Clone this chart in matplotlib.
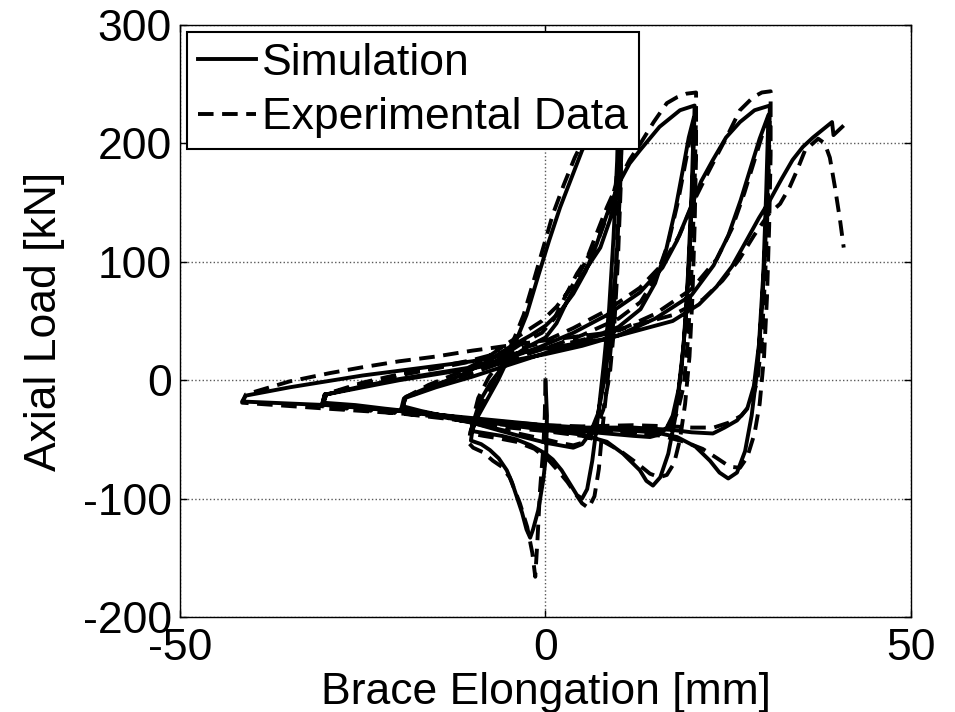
import matplotlib
matplotlib.use("Agg")
import matplotlib.pyplot as plt

plt.rcParams['font.family'] = ['Liberation Sans', 'DejaVu Sans']
plt.rcParams['axes.unicode_minus'] = False

# brace hysteresis: simulation, cycle by cycle (elongation mm, axial load kN)
sim_x = [
    # +-10 mm, first cycle
    0, 0.2, 0.1, -0.3, -1.0, -1.7, -2.1,
    -2.6, -3.2, -3.9, -4.6, -5.3, -6.4, -7.6, -8.8, -10.2,
    -10.0, -9.2, -8.3, -6.5, -4.5, -2.6, -1.0, 0.5, 2.0, 3.5, 5.0, 6.5, 8.0, 9.6, 10.0,
    9.8, 9.3, 8.7, 8.0, 7.2, 6.4, 5.7, 5.0,
    4.3, 3.4, 2.2, 1.0, 0.0, -2.0, -4.0, -6.0, -8.0, -10.0,
    # +-10 mm, second cycle
    -9.7, -9.0, -7.5, -5.0, -2.5, 0.0, 1.5, 2.9, 4.5, 6.0, 7.5, 8.8, 9.8, 10.3, 10.5,
    10.2, 9.7, 9.0, 8.2, 7.2, 6.1, 5.0, 3.8, 2.0, 0.2, -3.0, -6.0, -10.0, -14.0, -17.0, -19.5,
    # +-20 mm, first cycle
    -19.1, -16.0, -12.0, -8.5, -4.9, -2.0, 0.0, 2.0, 3.8, 5.5, 7.0, 8.4, 10.1, 11.5, 12.9, 15.6, 18.4, 20.4,
    20.2, 19.8, 19.3, 18.6, 17.8, 16.8, 15.7, 14.7, 13.8, 12.9, 10.6, 8.4, 5.0, 0.0, -5.0, -10.0, -15.0, -19.6,
    # +-20 mm, second cycle
    -19.2, -15.0, -10.0, -5.0, 0.0, 5.0, 10.0, 13.0, 15.0, 16.5, 17.8, 18.8, 19.6, 20.3,
    20.0, 19.5, 18.9, 18.2, 17.4, 16.6, 15.5, 14.3, 12.0, 8.4, 3.0, -3.0, -10.0, -16.0, -22.0, -26.0, -30.4,
    # +-30 mm, first cycle
    -30.0, -25.0, -20.0, -15.0, -10.0, -7.6, -4.0, -0.8, 3.8, 8.4, 12.9, 16.0, 18.0, 19.8, 21.3, 22.9, 24.7, 26.6, 28.6, 30.7,
    30.5, 30.1, 29.6, 29.0, 28.2, 27.3, 26.2, 25.0, 23.8, 22.5, 20.5, 18.0, 15.0, 10.0, 5.0, 0.0, -5.0, -10.0, -20.0, -30.4,
    # +-30 mm, second cycle
    -30.0, -20.0, -10.0, 0.0, 5.0, 10.0, 15.0, 20.0, 23.0, 25.0, 26.7, 28.0, 29.3, 30.5,
    30.2, 29.8, 29.2, 28.5, 27.6, 26.2, 24.5, 22.9, 20.0, 17.4, 12.0, 5.0, 0.0, -10.0, -20.0, -30.0, -41.5,
    # +-40 mm
    -41.0, -35.0, -30.0, -25.0, -20.0, -15.0, -10.0, -7.6, -0.8, 8.4, 17.4, 21.0, 23.4, 25.5, 27.5, 29.2,
    30.7, 32.3, 33.8, 35.2, 36.6, 38.0, 39.2, 39.4, 40.6,
]
sim_y = [
    0, -30, -62, -84, -110, -126, -133,
    -126, -112, -99, -86, -76, -66, -59, -54, -51,
    -42, -30, -20, 0, 26, 55, 88, 118, 146, 170, 194, 212, 224, 231, 232,
    185, 120, 60, 15, -30, -68, -92, -100,
    -97, -88, -76, -67, -62, -55, -50, -47, -45, -43,
    -32, -18, -2, 18, 28, 36, 48, 66, 84, 98, 112, 135, 158, 195, 215,
    160, 100, 45, 5, -28, -45, -54, -57, -55, -53, -48, -43, -36, -30, -26, -22,
    -14, -6, 3, 14, 28, 38, 46, 58, 73, 92, 115, 140, 167, 183, 194, 214, 228, 232,
    180, 120, 60, 10, -30, -62, -82, -89, -85, -76, -62, -52, -46, -42, -38, -34, -29, -24,
    -15, -6, 3, 13, 23, 33, 45, 60, 82, 110, 145, 178, 205, 222,
    160, 90, 30, -8, -30, -40, -46, -48, -47, -45, -42, -38, -33, -28, -24, -21, -19,
    -12, -5, 1, 6, 11, 15, 21, 28, 40, 55, 74, 95, 118, 145, 168, 186, 205, 218, 228, 232,
    180, 120, 60, 10, -30, -60, -78, -83, -78, -68, -56, -48, -44, -42, -41, -40, -36, -33, -26, -20,
    -12, 0, 10, 22, 29, 38, 52, 72, 97, 122, 152, 178, 204, 224,
    160, 90, 30, -5, -24, -34, -40, -45, -44, -42, -40, -40, -38, -32, -26, -21, -18,
    -13, -6, -1, 4, 8, 12, 16, 19, 26, 35, 50, 64, 79, 96, 118, 137,
    152, 170, 186, 197, 205, 212, 218, 207, 214,
]

# test record, same loading history, ends with fracture
exp_x = [
    0, -0.1, -0.3, -0.75, -1.1, -1.4, -1.8, -2.5, -3.5, -4.9, -6.0, -7.2, -8.5, -9.9, -10.5,
    -10.3, -9.5, -8.0, -6.0, -4.3, -3.0, -1.8, -0.5, 1.0, 2.5, 4.0, 5.5, 7.0, 8.5, 9.8, 10.2,
    10.1, 9.8, 9.3, 8.5, 7.8, 7.3, 6.7, 5.9,
    5.0, 4.0, 3.0, 1.8, 0.5, -1.5, -4.0, -6.5, -8.5, -10.2,
    -9.9, -9.2, -7.8, -5.5, -3.0, -0.5, 1.2, 2.8, 4.3, 5.8, 7.3, 8.6, 9.6, 10.2, 10.4,
    10.3, 9.9, 9.4, 8.8, 7.9, 6.8, 5.5, 3.8, 2.0, 0.0, -3.0, -6.0, -10.0, -14.0, -17.0, -19.7,
    -19.3, -16.0, -12.0, -8.5, -5.2, -2.5, -0.5, 1.5, 3.5, 5.5, 7.0, 8.4, 10.0, 11.5, 13.0, 14.8, 16.6, 18.0, 19.3, 20.6,
    20.6, 20.4, 20.1, 19.7, 19.1, 18.4, 17.6, 16.6, 15.6, 14.3, 12.5, 10.3, 8.0, 5.0, 0.0, -5.0, -10.0, -15.0, -19.8,
    -19.4, -15.0, -10.0, -5.0, 0.0, 5.0, 10.0, 13.0, 15.2, 16.8, 18.1, 19.1, 19.9, 20.6,
    20.4, 20.0, 19.5, 18.9, 18.0, 17.0, 15.5, 14.0, 12.0, 8.4, 3.0, -3.0, -10.0, -16.0, -22.0, -26.0, -30.6,
    -30.2, -25.0, -20.0, -15.0, -10.0, -7.6, -4.0, -0.8, 3.8, 8.4, 12.9, 16.0, 18.3, 20.2, 21.8, 23.3, 25.0, 26.6, 28.4, 29.6, 30.8,
    30.8, 30.6, 30.3, 29.9, 29.3, 28.6, 27.6, 26.6, 25.2, 23.5, 21.5, 19.0, 16.0, 10.0, 5.0, 0.0, -5.0, -10.0, -20.0, -30.6,
    -30.2, -20.0, -10.0, 0.0, 5.0, 10.0, 15.0, 20.0, 23.4, 25.5, 27.2, 28.5, 29.7, 30.7,
    30.5, 30.1, 29.6, 29.0, 28.1, 26.8, 25.0, 23.0, 20.0, 17.4, 12.0, 5.0, 0.0, -10.0, -20.0, -30.0, -41.5,
    -41.0, -35.0, -29.5, -25.0, -20.0, -15.0, -10.0, -7.6, -0.8, 8.4, 17.4, 21.5, 24.2, 26.5, 28.5, 30.5,
    32.1, 33.4, 34.4, 35.5, 37.3, 38.2, 38.9, 39.6, 40.3, 40.8,
]
exp_y = [
    0, -30, -57, -93, -135, -166, -146, -124, -104, -82, -73, -68, -61, -57, -53,
    -44, -30, -12, 12, 35, 55, 80, 108, 140, 165, 188, 207, 222, 234, 240, 241,
    190, 120, 50, 0, -40, -75, -98, -108,
    -104, -95, -86, -77, -68, -58, -52, -49, -47, -45,
    -32, -15, 2, 22, 32, 40, 52, 72, 90, 104, 120, 142, 165, 200, 222,
    165, 100, 45, 5, -25, -42, -52, -55, -53, -50, -46, -42, -36, -31, -28, -24,
    -15, -4, 6, 17, 31, 42, 50, 62, 78, 100, 124, 146, 168, 186, 200, 218, 234, 239, 242, 243,
    190, 130, 70, 20, -20, -50, -70, -80, -82, -79, -70, -60, -52, -47, -43, -40, -36, -30, -26,
    -16, -4, 6, 17, 27, 38, 52, 66, 88, 116, 150, 182, 208, 226,
    165, 95, 35, -5, -28, -38, -43, -45, -44, -42, -40, -38, -33, -29, -26, -24, -21,
    -12, -2, 5, 11, 17, 21, 26, 31, 44, 59, 78, 98, 122, 150, 170, 188, 208, 228, 239, 243, 244,
    190, 130, 70, 20, -20, -45, -65, -74, -73, -66, -58, -52, -47, -43, -42, -41, -38, -35, -28, -22,
    -12, 4, 16, 27, 34, 42, 56, 77, 102, 128, 158, 184, 208, 226,
    165, 95, 35, 0, -20, -30, -36, -40, -40, -39, -38, -39, -38, -33, -28, -24, -19,
    -12, -1, 6, 11, 16, 20, 25, 27, 33, 40, 55, 68, 84, 102, 122, 140,
    149, 163, 177, 194, 204, 200, 188, 163, 135, 112,
]

x_ticks = [-50, 0, 50]
y_ticks = [-200, -100, 0, 100, 200, 300]

fig = plt.figure(figsize=(9.55, 7.12), dpi=100)
ax = fig.add_axes([0.1885, 0.1334, 0.7654, 0.8315])

ax.plot(sim_x, sim_y, color='k', lw=2.8, solid_joinstyle='round', label='Simulation')
ax.plot(exp_x, exp_y, color='k', lw=2.8, linestyle=(0, (4.0, 2.2)), label='Experimental Data')

ax.set_xlim(-50, 50)
ax.set_ylim(-200, 300)
ax.set_xticks(x_ticks)
ax.set_yticks(y_ticks)
ax.grid(True, linestyle=':', color='0.35', lw=1.0)
ax.tick_params(direction='in', length=5, width=1, top=True, right=True,
               labelsize=32)
ax.tick_params(axis='x', pad=8)
ax.tick_params(axis='y', pad=6)
for sp in ax.spines.values():
    sp.set_linewidth(1.0)

ax.set_xlabel('Brace Elongation [mm]', fontsize=32, labelpad=2)
ax.set_ylabel('Axial Load [kN]', fontsize=32, labelpad=13)

leg = ax.legend(loc='upper left', fontsize=32, frameon=True, fancybox=False,
                framealpha=1, edgecolor='k', handlelength=1.3, handletextpad=0.15,
                borderpad=0.25, labelspacing=0.3, borderaxespad=0.15)
leg.get_frame().set_linewidth(1.5)

fig.savefig('out.png', dpi=100)
